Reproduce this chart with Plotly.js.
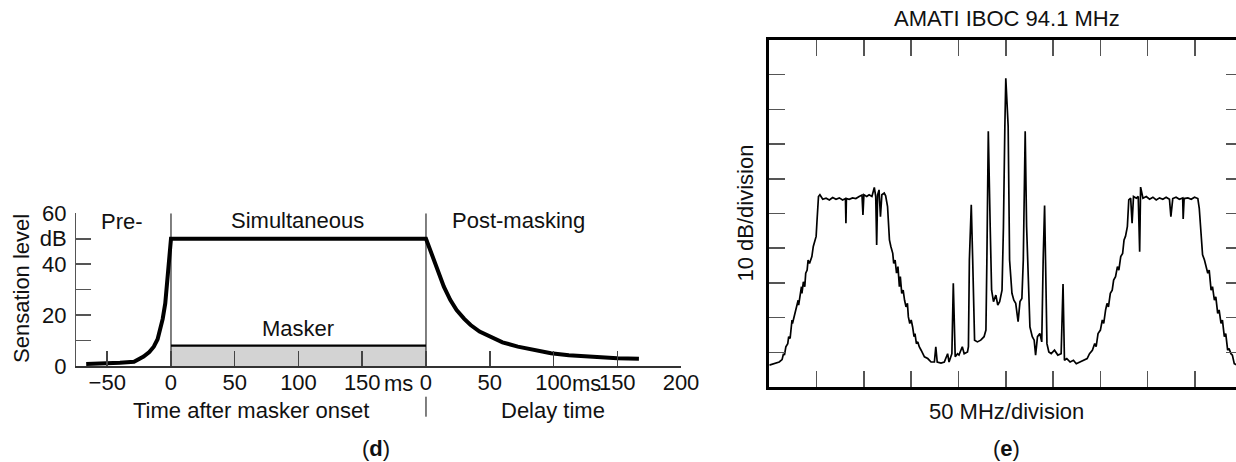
<!DOCTYPE html>
<html>
<head>
<meta charset="utf-8">
<script src="https://cdn.plot.ly/plotly-3.0.1.min.js"></script>
<style>
html,body{margin:0;padding:0;overflow:hidden;background:#fff;width:1236px;height:462px;}
#chart{width:1250px;height:462px;}
</style>
</head>
<body>
<div id="chart"></div>
<script>
// ---------- Panel (d): masking (time in ms, level in dB) ----------
const preT  = [-66.5, -50, -40, -29, -21.5, -17, -13.5, -10.5, -8.5, -6.5, -4.5, -2.5, -1, 0];
const preL  = [0.8, 1.0, 1.3, 1.7, 3.7, 5.5, 7.6, 10.5, 14, 18.5, 24.6, 36, 45, 50];
const simT  = [0, 200];
const simL  = [50, 50];
const postT = [200, 203, 206, 210, 214, 219, 224, 230, 235, 242, 250, 260, 272, 285, 298, 312, 324, 337, 350, 367];
const postL = [50, 46, 41.7, 36, 31.2, 26, 22, 18.5, 16.1, 13.5, 11.5, 9.3, 7.6, 6.2, 5.0, 4.2, 3.7, 3.3, 3.0, 2.8];
const maskerT = [0, 200];
const maskerL = [8, 8];
const dividerT = [0, 200];
const dividerTop = 60;
const dTickVals = [-50, 0, 50, 100, 150, 200, 250, 300, 350, 400];
const dTickText = ['\u221250', '0', '50', '100', '150', '0', '50', '100', '150', '200'];
const dYTickVals = [0, 10, 20, 30, 40, 50, 60];
const dYTickText = ['0', '', '20', '', '40', 'dB', '60'];

// ---------- Panel (e): spectrum (divisions) ----------
const specX = [0.00,0.07,0.14,0.21,0.27,0.30,0.32,0.35,0.39,0.41,0.44,0.46,0.48,0.49,0.52,0.55,0.58,0.61,0.62,0.65,0.68,0.69,0.72,0.75,0.77,0.80,0.82,0.85,0.87,0.90,0.93,0.96,0.99,1.01,1.04,
1.07,1.13,1.20,1.27,1.34,1.41,1.48,1.55,1.61,1.62,1.63,1.69,1.76,1.83,1.90,1.96,1.98,2.00,2.06,2.11,2.17,2.22,2.25,2.27,2.29,2.32,2.35,2.38,2.43,2.46,
2.50,2.54,2.57,2.61,2.63,2.66,2.69,2.72,2.75,2.77,2.80,2.83,2.86,2.89,2.92,2.94,2.97,3.00,3.03,3.06,3.08,3.11,3.14,3.17,3.21,3.24,3.28,3.35,3.42,
3.49,3.52,3.55,3.63,3.70,3.77,3.80,3.86,3.89,3.93,3.98,4.01,4.08,4.12,4.19,4.21,4.23,4.27,4.30,4.34,4.40,4.47,4.54,4.58,4.60,4.63,4.67,4.70,4.74,4.79,4.83,4.87,4.92,4.95,4.98,
5.00,5.05,5.08,5.13,5.17,5.21,5.26,5.30,5.34,5.37,5.41,5.44,5.48,5.51,5.56,5.60,5.63,5.67,5.72,5.76,5.79,5.82,5.84,5.87,5.91,5.96,6.03,6.10,6.17,6.21,6.24,6.29,6.36,6.43,6.49,6.57,6.65,6.72,
6.77,6.83,6.88,6.91,6.95,7.00,7.04,7.07,7.11,7.14,7.17,7.21,7.25,7.28,7.32,7.36,7.39,7.43,7.47,7.50,7.53,7.57,7.60,7.64,7.67,7.70,7.76,7.80,7.83,7.85,7.90,7.97,
8.04,8.11,8.18,8.25,8.32,8.39,8.46,8.49,8.53,8.60,8.67,8.74,8.75,8.77,8.85,8.92,8.99,9.06,9.09,9.13,9.16,9.20,9.23,9.27,9.30,9.34,9.37,9.41,9.44,9.48,9.51,9.55,9.58,9.62,9.65,9.69,9.72,9.76,9.79,9.83,9.90];
const specY = [0.63,0.66,0.69,0.72,0.79,0.96,0.92,1.16,1.25,1.45,1.40,1.73,1.93,1.83,2.02,2.12,2.31,2.50,2.36,2.70,2.89,2.70,3.03,2.89,3.28,3.37,3.66,3.56,3.66,3.76,4.05,4.24,4.34,4.82,5.49,
5.54,5.41,5.44,5.39,5.46,5.41,5.45,5.39,5.43,4.72,5.43,5.41,5.45,5.43,5.49,5.53,4.96,5.54,5.49,5.54,5.49,5.75,5.49,4.09,5.54,5.68,4.91,5.54,5.59,5.51,
5.20,4.24,4.05,3.85,3.56,3.66,3.28,3.47,2.89,3.18,2.70,2.79,2.50,2.31,2.41,2.02,1.83,1.93,1.73,1.45,1.54,1.25,1.30,1.16,1.06,0.96,0.87,0.82,0.72,
0.72,1.16,0.72,0.69,0.72,0.96,0.72,0.96,2.99,0.87,0.96,0.92,1.16,0.96,1.01,1.16,3.66,5.25,3.66,1.35,1.30,1.35,1.45,1.64,3.66,7.37,4.62,2.79,2.46,2.65,2.36,2.46,2.79,4.62,7.51,
8.90,7.51,3.66,2.70,2.50,2.41,1.88,2.46,2.55,3.66,7.37,4.62,2.50,1.73,1.45,1.35,0.92,1.45,1.54,1.30,3.66,5.23,3.66,1.25,1.01,0.96,1.06,0.92,0.96,2.97,0.77,0.82,0.72,0.77,0.67,0.72,0.77,0.82,
0.96,1.06,1.25,1.16,1.54,1.64,1.93,1.83,2.22,2.41,2.31,2.70,2.79,3.08,3.18,3.47,3.37,3.76,3.85,4.24,4.34,4.62,5.39,5.44,4.72,5.49,5.44,5.49,3.90,5.76,5.44,5.49,
5.41,5.47,5.39,5.45,5.41,5.47,5.41,4.91,5.43,5.47,5.41,5.45,4.84,5.43,5.45,5.41,5.47,5.43,5.15,4.24,3.81,3.66,3.47,3.28,3.37,2.79,2.89,2.50,2.60,2.12,2.22,1.83,1.93,1.45,1.54,1.06,1.11,0.96,0.92,0.67,0.63];

// ---------- layout helpers (pixel -> paper) ----------
const W = 1250, H = 462;
const fx = p => p / W;
const fy = p => 1 - p / H;
const FONT = 'Liberation Sans, Arial, Helvetica, sans-serif';
const TXT = '#111';

const dX0 = 76, dX1 = 681, dY0 = 366, dY1 = 213.3;
const dRange = [-74.5, 400];
const eX0 = 769.3, eX1 = 1242.3, eY0 = 387, eY1 = 40;

const tToPaper = t => fx(dX0 + (t - dRange[0]) / (dRange[1] - dRange[0]) * (dX1 - dX0));

const traces = [
  {x: maskerT, y: maskerL, type: 'scatter', mode: 'lines', fill: 'tozeroy', fillcolor: '#d3d3d3',
   line: {color: '#000', width: 2.2}, xaxis: 'x', yaxis: 'y', hoverinfo: 'skip'},
  {x: [dividerT[0], dividerT[0]], y: [0, dividerTop], type: 'scatter', mode: 'lines',
   line: {color: '#000', width: 1}, xaxis: 'x', yaxis: 'y', hoverinfo: 'skip'},
  {x: [dividerT[1], dividerT[1]], y: [0, dividerTop], type: 'scatter', mode: 'lines',
   line: {color: '#000', width: 1}, xaxis: 'x', yaxis: 'y', hoverinfo: 'skip'},
  {x: preT.concat(simT, postT), y: preL.concat(simL, postL), type: 'scatter', mode: 'lines',
   line: {color: '#000', width: 4, shape: 'linear'}, xaxis: 'x', yaxis: 'y', hoverinfo: 'skip'},
  {x: specX, y: specY, type: 'scatter', mode: 'lines',
   line: {color: '#000', width: 1.7}, xaxis: 'x2', yaxis: 'y2', hoverinfo: 'skip'}
];

function ann(text, x, y, opts) {
  return Object.assign({text: text, x: fx(x), y: fy(y), xref: 'paper', yref: 'paper',
    xanchor: 'center', yanchor: 'middle', showarrow: false,
    font: {family: FONT, size: 22, color: TXT}}, opts || {});
}

const layout = {
  width: W, height: H,
  margin: {l: 0, r: 0, t: 0, b: 0},
  paper_bgcolor: '#fff', plot_bgcolor: 'rgba(0,0,0,0)',
  showlegend: false,
  font: {family: FONT, size: 22, color: TXT},
  xaxis: {domain: [fx(dX0), fx(dX1)], range: dRange, anchor: 'y',
    showgrid: false, zeroline: false, showline: true, linecolor: '#333', linewidth: 2,
    ticks: 'inside', ticklen: 15, tickwidth: 1.5, tickcolor: '#444',
    tickmode: 'array', tickvals: dTickVals, ticktext: dTickText,
    tickfont: {family: FONT, size: 22, color: TXT}, ticklabelstandoff: -4},
  yaxis: {domain: [fy(dY0), fy(dY1)], range: [0, 60], anchor: 'x',
    showgrid: false, zeroline: false, showline: true, linecolor: '#555', linewidth: 1,
    ticks: 'inside', ticklen: 15, tickwidth: 1.5, tickcolor: '#555',
    tickmode: 'array', tickvals: dYTickVals, ticktext: dYTickText,
    tickfont: {family: FONT, size: 22, color: TXT}, ticklabelstandoff: 4},
  xaxis2: {domain: [fx(eX0), fx(eX1)], range: [0, 10], anchor: 'y2',
    showgrid: false, zeroline: false, showline: true, mirror: 'ticks', linecolor: '#000', linewidth: 3,
    ticks: 'inside', ticklen: 16, tickwidth: 1.5, tickcolor: '#555', dtick: 1, tick0: 0,
    showticklabels: false},
  yaxis2: {domain: [fy(eY0), fy(eY1)], range: [0, 10], anchor: 'x2',
    showgrid: false, zeroline: false, showline: true, mirror: 'ticks', linecolor: '#000', linewidth: 3,
    ticks: 'inside', ticklen: 16, tickwidth: 1.5, tickcolor: '#555', dtick: 1, tick0: 0,
    showticklabels: false},
  shapes: [
    {type: 'line', xref: 'paper', yref: 'paper', x0: tToPaper(200), x1: tToPaper(200),
     y0: fy(396.7), y1: fy(416.7), line: {color: '#000', width: 1}}
  ],
  annotations: [
    ann('Pre-', 122, 221.5),
    ann('Simultaneous', 297.5, 220),
    ann('Post-masking', 518, 220.5),
    ann('Masker', 297.5, 328.3),
    ann('ms', 398.5, 383),
    ann('ms', 586, 383),
    ann('Time after masker onset', 251, 410),
    ann('Delay time', 553, 410),
    ann('Sensation level', 21, 289, {textangle: -90}),
    ann('(<b>d</b>)', 376, 448),
    ann('AMATI IBOC 94.1 MHz', 1006.7, 18),
    ann('10 dB/division', 745, 213.5, {textangle: -90}),
    ann('50 MHz/division', 1006, 411),
    ann('(<b>e</b>)', 1006, 448)
  ]
};

Plotly.newPlot('chart', traces, layout, {staticPlot: true, displayModeBar: false});
</script>
</body>
</html>
